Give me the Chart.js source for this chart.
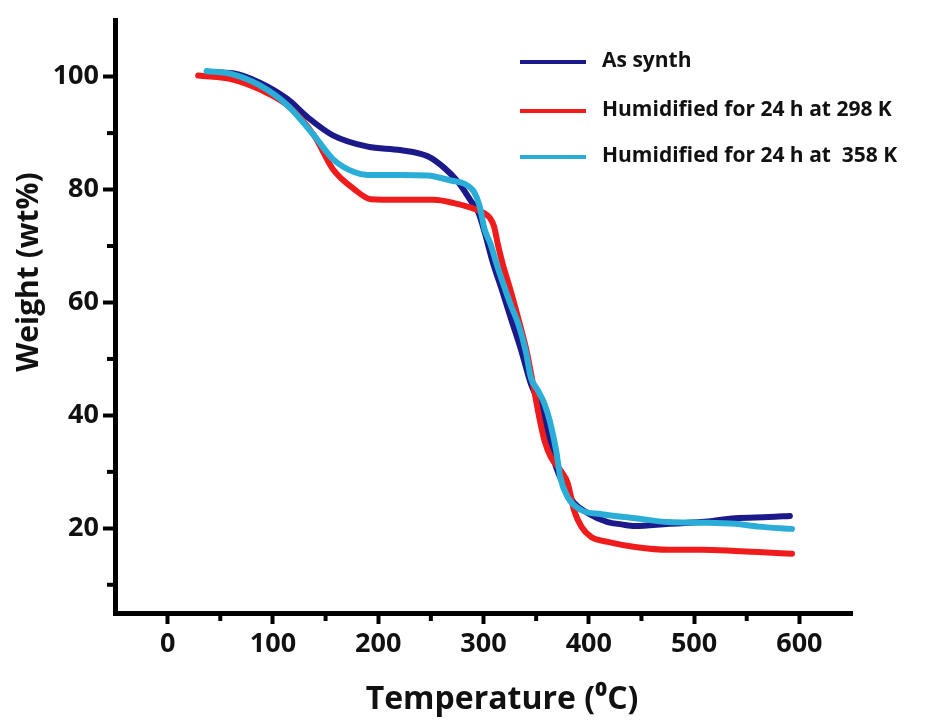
<!DOCTYPE html>
<html>
<head>
<meta charset="utf-8">
<script src="https://cdn.jsdelivr.net/npm/chart.js@4.4.1/dist/chart.umd.min.js"></script>
<style>
  html, body { margin: 0; padding: 0; background: #fff; }
</style>
</head>
<body>
<canvas id="tga" width="945" height="721"></canvas>
<script>
// TGA curves: temperature (°C) vs remaining weight (wt%)
const asSynthT = [40, 62, 88, 114, 133, 157, 190, 221, 247, 263, 276, 288, 295, 301, 309, 317, 326, 336, 345, 352, 358, 367, 377, 386, 399, 418, 431, 444, 476, 507, 539, 571, 591];
const asSynthW = [100.8, 100.6, 98.9, 96, 92.8, 89.6, 87.6, 87, 85.9, 83.8, 81.3, 78, 76, 72.5, 67, 62.5, 57.2, 51.4, 45.6, 42.6, 39.1, 32, 27.3, 24.5, 22.7, 21.1, 20.7, 20.4, 20.8, 21.1, 21.8, 22, 22.2];

const hum298T = [29, 62, 88, 114, 139, 157, 177, 193, 221, 253, 272, 288, 300, 306, 310, 314, 319, 325, 333, 341, 347, 353, 358, 364, 373, 380, 386, 393, 402, 418, 444, 476, 507, 539, 561, 593];
const hum298W = [100.2, 99.5, 97.7, 94.9, 89.6, 83.6, 80.1, 78.3, 78.2, 78.2, 77.6, 76.8, 75.9, 75, 73.5, 70, 66.3, 62.6, 57.2, 51.4, 45.6, 39.6, 35.5, 32.6, 30.3, 28, 23.2, 20.3, 18.5, 17.6, 16.7, 16.2, 16.2, 16, 15.8, 15.5];

const hum358T = [37, 62, 88, 114, 139, 157, 177, 190, 221, 247, 269, 282, 291, 296, 301, 307, 313, 319, 326, 333, 340, 345, 352, 358, 363, 369, 373, 380, 393, 412, 444, 476, 507, 539, 561, 593];
const hum358W = [101, 100.4, 98.4, 94.9, 89.6, 85.4, 83.1, 82.6, 82.6, 82.5, 81.6, 81, 79.6, 77.3, 73, 70.2, 66.5, 63.2, 59.5, 56.2, 51.5, 46.7, 44.3, 42, 39, 33.8, 29, 25.5, 23.2, 22.5, 21.8, 21.1, 21, 20.8, 20.3, 19.9];

const seriesNames = ["As synth", "Humidified for 24 h at 298 K", "Humidified for 24 h at  358 K"];
const seriesColors = ["#1c1a8a", "#f01c1c", "#2aaed8"];
// higher order is drawn first, so the light blue curve ends up on top
const seriesOrder = [3, 2, 1];

const xTicks = [0, 100, 200, 300, 400, 500, 600];
const xMinorTicks = [50, 150, 250, 350, 450, 550];
const yTicks = [20, 40, 60, 80, 100];
const yMinorTicks = [10, 30, 50, 70, 90];

const FONT = "'Open Sans', 'DejaVu Sans', sans-serif";

function toPoints(xs, ys) {
  return xs.map((x, i) => ({ x, y: ys[i] }));
}

// short ticks between the labelled ones
const minorTicks = {
  id: "minorTicks",
  afterDraw(chart) {
    const { ctx, chartArea, scales } = chart;
    ctx.save();
    ctx.strokeStyle = "#000";
    ctx.lineWidth = 4;
    xMinorTicks.forEach((v) => {
      const px = scales.x.getPixelForValue(v);
      ctx.beginPath();
      ctx.moveTo(px, chartArea.bottom);
      ctx.lineTo(px, chartArea.bottom + 8);
      ctx.stroke();
    });
    yMinorTicks.forEach((v) => {
      const py = scales.y.getPixelForValue(v);
      ctx.beginPath();
      ctx.moveTo(chartArea.left, py);
      ctx.lineTo(chartArea.left - 8, py);
      ctx.stroke();
    });
    ctx.restore();
  },
};

// axis titles
const axisTitles = {
  id: "axisTitles",
  afterDraw(chart) {
    const { ctx } = chart;
    ctx.save();
    ctx.fillStyle = "#111";
    ctx.textAlign = "center";
    ctx.textBaseline = "middle";
    ctx.font = "bold 32px " + FONT;
    ctx.fillText("Temperature (\u2070C)", 502, 700);
    ctx.font = "bold 30px " + FONT;
    ctx.translate(29, 272);
    ctx.rotate(-Math.PI / 2);
    ctx.fillText("Weight (wt%)", 0, 0);
    ctx.restore();
  },
};

// legend in the upper right of the plot
const insideLegend = {
  id: "insideLegend",
  afterDraw(chart) {
    const { ctx } = chart;
    const rows = [62, 111, 157];
    ctx.save();
    ctx.font = "bold 21px " + FONT;
    ctx.textAlign = "left";
    ctx.textBaseline = "middle";
    chart.data.datasets.forEach((ds, i) => {
      ctx.strokeStyle = ds.borderColor;
      ctx.lineWidth = 4;
      ctx.beginPath();
      ctx.moveTo(520, rows[i]);
      ctx.lineTo(586, rows[i]);
      ctx.stroke();
      ctx.fillStyle = "#111";
      ctx.fillText(ds.label, 602, rows[i] - 1);
    });
    ctx.restore();
  },
};

const datasets = [
  toPoints(asSynthT, asSynthW),
  toPoints(hum298T, hum298W),
  toPoints(hum358T, hum358W),
].map((data, i) => ({
  label: seriesNames[i],
  data,
  order: seriesOrder[i],
  borderColor: seriesColors[i],
  backgroundColor: seriesColors[i],
  borderWidth: 6,
  pointRadius: 0,
  showLine: true,
  cubicInterpolationMode: "monotone",
  borderCapStyle: "round",
}));

new Chart(document.getElementById("tga").getContext("2d"), {
  type: "scatter",
  data: { datasets },
  plugins: [minorTicks, axisTitles, insideLegend],
  options: {
    responsive: false,
    animation: false,
    layout: { padding: { left: 0, top: 17, right: 93, bottom: 0 } },
    plugins: { legend: { display: false }, tooltip: { enabled: false } },
    scales: {
      x: {
        type: "linear",
        min: -50,
        max: 650,
        afterBuildTicks: (scale) => {
          scale.ticks = xTicks.map((value) => ({ value }));
        },
        afterFit: (scale) => {
          scale.height = 108;
        },
        ticks: {
          color: "#111",
          font: { family: FONT, size: 27, weight: "bold" },
          padding: 4,
          maxRotation: 0,
        },
        grid: {
          drawOnChartArea: false,
          drawTicks: true,
          tickLength: 11,
          tickWidth: 4,
          tickColor: "#000",
        },
        border: { display: true, color: "#000", width: 5 },
      },
      y: {
        type: "linear",
        min: 5,
        max: 110,
        afterBuildTicks: (scale) => {
          scale.ticks = yTicks.map((value) => ({ value }));
        },
        afterFit: (scale) => {
          scale.width = 115;
        },
        ticks: {
          color: "#111",
          font: { family: FONT, size: 27, weight: "bold" },
          padding: 4,
        },
        grid: {
          drawOnChartArea: false,
          drawTicks: true,
          tickLength: 12,
          tickWidth: 4,
          tickColor: "#000",
        },
        border: { display: true, color: "#000", width: 5 },
      },
    },
  },
});
</script>
</body>
</html>
